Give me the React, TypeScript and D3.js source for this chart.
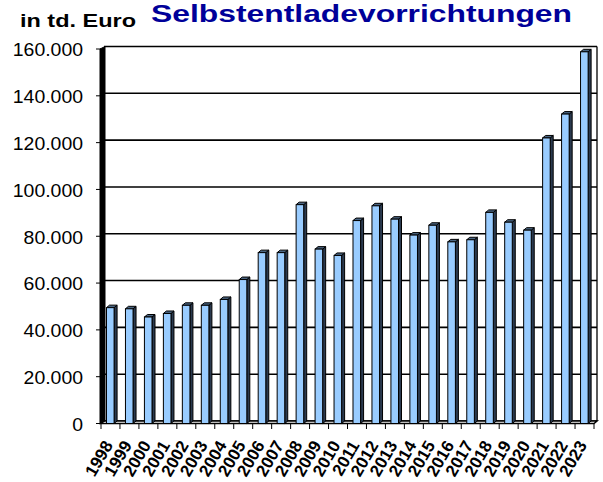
import React, { useEffect, useRef } from 'react';
import * as d3 from 'd3';

// data (values in thousand euro)
const years = [
  '1998', '1999', '2000', '2001', '2002', '2003', '2004', '2005', '2006',
  '2007', '2008', '2009', '2010', '2011', '2012', '2013', '2014', '2015',
  '2016', '2017', '2018', '2019', '2020', '2021', '2022', '2023',
];
const values = [
  49.5, 49, 45.5, 47, 50.5, 50.5, 53, 61.5, 73,
  73, 93.5, 74.5, 71.8, 86.7, 93, 87.3, 80.5, 84.7,
  77.6, 78.5, 90.2, 86, 82.6, 122, 132.2, 158.8,
];
const yTicks = [0, 20, 40, 60, 80, 100, 120, 140, 160];
const yTickLabels = ['0', '20.000', '40.000', '60.000', '80.000', '100.000', '120.000', '140.000', '160.000'];

const App: React.FC = () => {
  const svgRef = useRef<SVGSVGElement>(null);

  useEffect(() => {
    if (!svgRef.current) return;
    const svg = d3.select(svgRef.current);
    svg.selectAll('*').remove();

    const width = 603;
    const height = 482;
    const left = 101;
    const right = 594;
    const bottom = 423.5;
    const top = 49;
    const dx = 3; // 3d depth
    const dy = -2.5;

    const x = d3.scaleBand<string>().domain(years).range([left, right]).padding(0);
    const y = d3.scaleLinear().domain([0, 160]).range([bottom, top]);
    const bw = x.bandwidth();

    svg.append('rect').attr('width', width).attr('height', height).attr('fill', '#fff');

    // Titles
    svg.append('text')
      .attr('x', 20).attr('y', 27)
      .attr('font-family', 'Liberation Sans, Arial, sans-serif')
      .attr('font-weight', 'bold').attr('font-size', 19)
      .attr('textLength', 116).attr('lengthAdjust', 'spacingAndGlyphs')
      .attr('fill', '#000')
      .text('in td. Euro');

    svg.append('text')
      .attr('x', 151).attr('y', 21.5)
      .attr('font-family', 'Liberation Sans, Arial, sans-serif')
      .attr('font-weight', 'bold').attr('font-size', 24.5)
      .attr('textLength', 421).attr('lengthAdjust', 'spacingAndGlyphs')
      .attr('fill', '#000099')
      .text('Selbstentladevorrichtungen');

    // Back wall gridlines
    const grid = svg.append('g');
    grid.selectAll('line')
      .data(yTicks)
      .enter()
      .append('line')
      .attr('x1', left + dx).attr('x2', right + dx)
      .attr('y1', d => y(d) + dy).attr('y2', d => y(d) + dy)
      .attr('stroke', '#000').attr('stroke-width', 1.6);

    // right edge of back wall
    svg.append('line')
      .attr('x1', right + dx).attr('x2', right + dx)
      .attr('y1', y(160) + dy).attr('y2', bottom + dy)
      .attr('stroke', '#000').attr('stroke-width', 1.3);

    // Floor
    svg.append('path')
      .attr('d', `M${left},${bottom} L${right},${bottom} L${right + dx},${bottom + dy} L${left + dx},${bottom + dy} Z`)
      .attr('fill', '#fff').attr('stroke', '#000').attr('stroke-width', 1.5);

    // Left wall (thick black)
    svg.append('path')
      .attr('d', `M${left - 1},${top} L${left + dx + 1},${top + dy} L${left + dx + 1},${bottom + dy} L${left - 1},${bottom} Z`)
      .attr('fill', '#000').attr('stroke', '#000').attr('stroke-width', 1);

    // Bars
    const rows = years.map((yr, i) => ({ yr, v: values[i] }));
    const bars = svg.append('g')
      .selectAll('g')
      .data(rows)
      .enter()
      .append('g');

    const fx = (d: { yr: string }) => (x(d.yr) as number) + bw * 0.29;
    const fw = bw * 0.4;

    // side face
    bars.append('path')
      .attr('d', d => {
        const x1 = fx(d) + fw;
        const yt = y(d.v);
        return `M${x1},${bottom} L${x1},${yt} L${x1 + dx},${yt + dy} L${x1 + dx},${bottom + dy} Z`;
      })
      .attr('fill', '#2b3a4f').attr('stroke', '#000').attr('stroke-width', 1)
      .attr('stroke-linejoin', 'round');

    // top face
    bars.append('path')
      .attr('d', d => {
        const x0 = fx(d);
        const yt = y(d.v);
        return `M${x0},${yt} L${x0 + fw},${yt} L${x0 + fw + dx},${yt + dy} L${x0 + dx},${yt + dy} Z`;
      })
      .attr('fill', '#4a6582').attr('stroke', '#000').attr('stroke-width', 1)
      .attr('stroke-linejoin', 'round');

    // front face
    bars.append('rect')
      .attr('x', d => fx(d))
      .attr('y', d => y(d.v))
      .attr('width', fw)
      .attr('height', d => bottom - y(d.v))
      .attr('fill', '#99ccff').attr('stroke', '#000').attr('stroke-width', 1);

    // Y axis ticks and labels
    const yAxis = svg.append('g');
    yAxis.selectAll('line')
      .data(yTicks)
      .enter()
      .append('line')
      .attr('x1', left - 5).attr('x2', left)
      .attr('y1', d => y(d)).attr('y2', d => y(d))
      .attr('stroke', '#000').attr('stroke-width', 1);

    yAxis.selectAll('text')
      .data(yTicks)
      .enter()
      .append('text')
      .attr('transform', d => `translate(83,${y(d) + 1}) scale(1.08,1)`)
      .attr('text-anchor', 'end')
      .attr('dy', '0.35em')
      .attr('font-family', 'Liberation Sans, Arial, sans-serif')
      .attr('font-size', 18)
      .attr('fill', '#000')
      .text((d, i) => yTickLabels[i]);

    // X axis ticks
    const xAxis = svg.append('g');
    xAxis.selectAll('line')
      .data(d3.range(years.length + 1))
      .enter()
      .append('line')
      .attr('x1', i => left + i * bw).attr('x2', i => left + i * bw)
      .attr('y1', bottom).attr('y2', bottom + 5.5)
      .attr('stroke', '#000').attr('stroke-width', 1);

    xAxis.selectAll('text')
      .data(years)
      .enter()
      .append('text')
      .attr('transform', d => `translate(${(x(d) as number) + bw / 2 + 3},${bottom + 21.5}) rotate(-60)`)
      .attr('text-anchor', 'end')
      .attr('font-family', 'Liberation Sans, Arial, sans-serif')
      .attr('font-weight', 'bold')
      .attr('font-size', 17)
      .attr('fill', '#000')
      .text(d => d);
  }, []);

  return (
    <svg
      ref={svgRef}
      width={603}
      height={482}
      style={{ position: 'absolute', left: 0, top: 0 }}
    />
  );
};

export default App;
